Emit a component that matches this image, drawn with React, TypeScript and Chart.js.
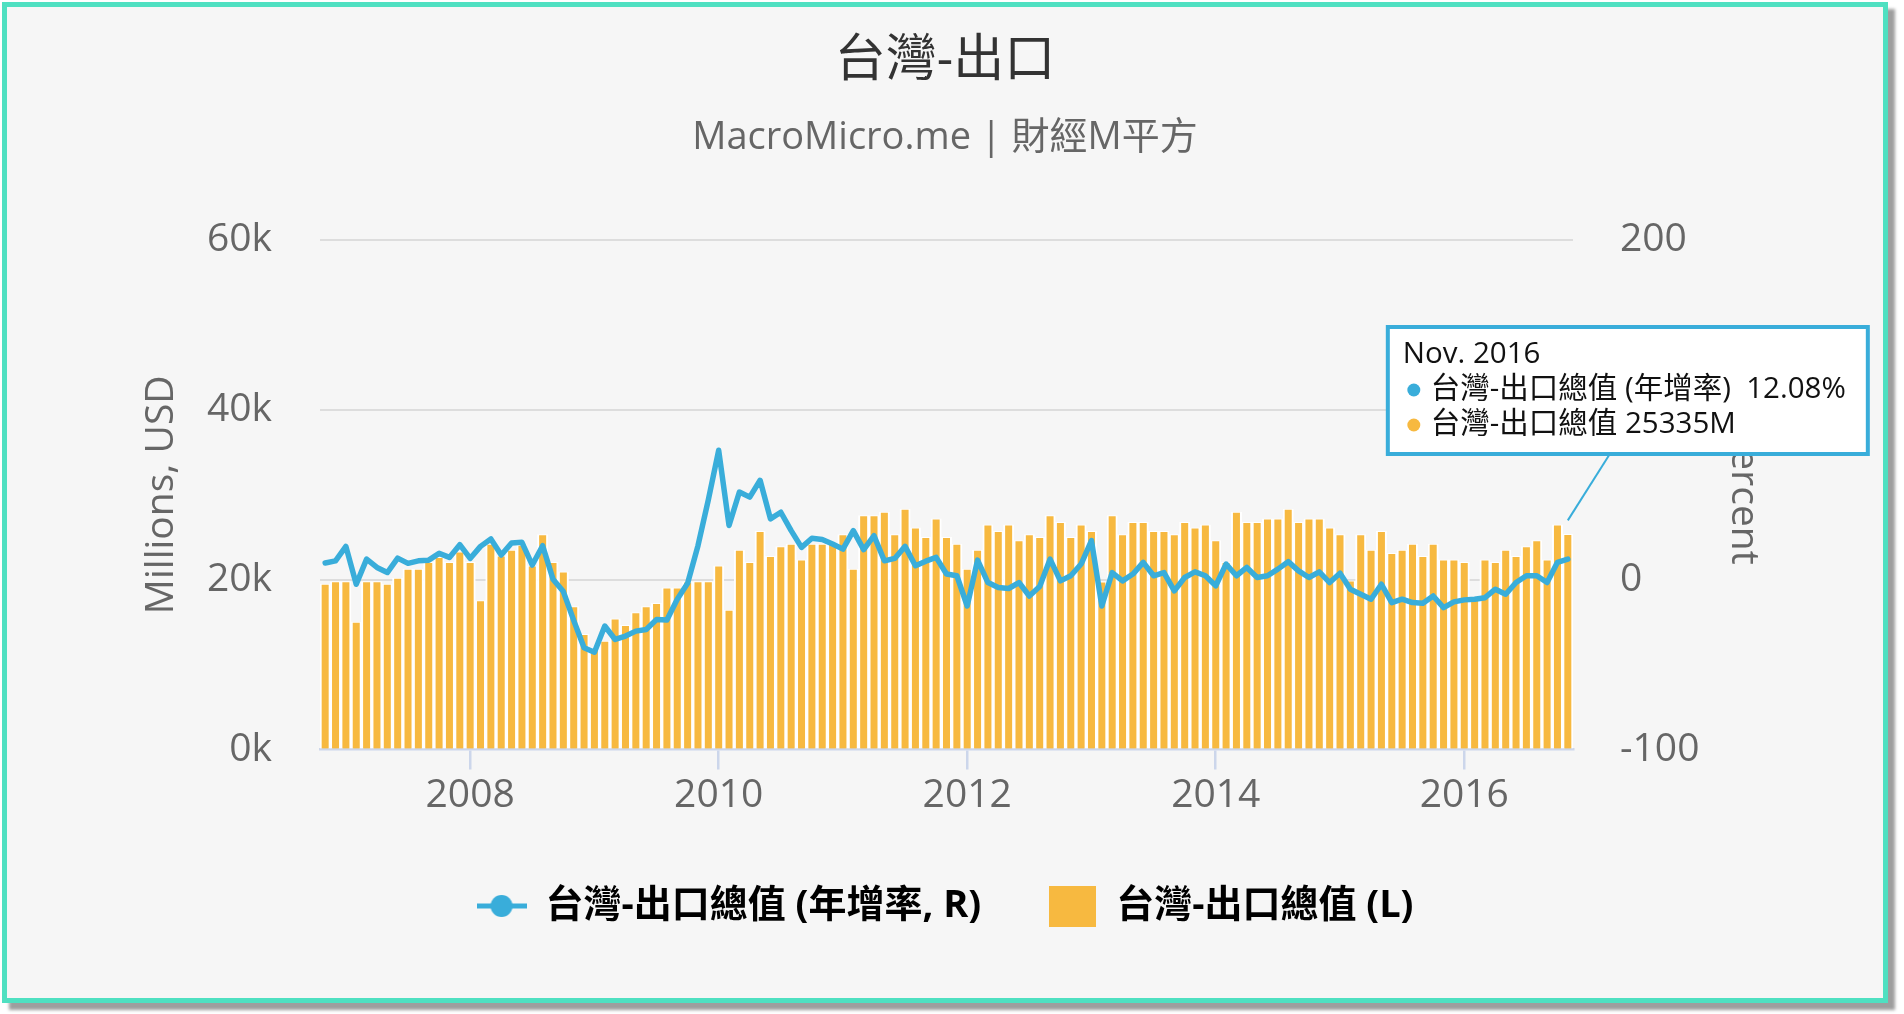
import React, { useEffect, useRef } from 'react';
import { Chart, registerables } from 'chart.js';

Chart.register(...registerables);

// ---------- data ----------
const START_YEAR = 2006;
const START_MONTH = 11; // first bar: Nov. 2006
const xTickYears = ['2008', '2010', '2012', '2014', '2016'];

// 台灣-出口總值 (Millions, USD)
const exportValues = [
  19470, 19780, 19780, 15010, 19780, 19780, 19470, 20180, 21240, 21240, 22030, 22620,
  22030, 23290, 22030, 17530, 24200, 22820, 23490, 24080, 21640, 25300, 22030, 20930,
  16830, 13550, 11780, 12760, 15400, 14620, 16110, 16830, 17220, 19030, 19030, 19740,
  19780, 19780, 21640, 16430, 23490, 22030, 25700, 22740, 23890, 24200, 22340, 24200,
  24200, 24200, 25300, 21240, 27560, 27560, 27950, 25300, 28300, 26090, 24990, 27170,
  24990, 24200, 21240, 23490, 26450, 25700, 26450, 24590, 25300, 24990, 27560, 26760,
  24990, 26450, 25700, 19740, 27560, 25300, 26760, 26760, 25700, 25700, 25300, 26760,
  26090, 26450, 24590, 22030, 27950, 26760, 26760, 27170, 27170, 28300, 26760, 27170,
  27170, 26090, 25300, 19860, 25300, 23490, 25700, 23100, 23490, 24200, 22740, 24200,
  22350, 22350, 22030, 17610, 22350, 22030, 23490, 22740, 23890, 24590, 22350, 26450,
  25335,
];

// 台灣-出口總值 (年增率, %)
const exportGrowth = [
  9.8, 11.1, 19.6, -2.7, 12.1, 7.2, 4.2, 12.7, 9.6, 11.1, 11.5, 15.5,
  13.1, 20.6, 12.5, 19.6, 24.0, 14.5, 21.6, 22.0, 8.6, 20.0, 0.3, -7.0,
  -24.0, -40.1, -42.7, -27.3, -35.2, -33.2, -30.3, -29.3, -23.4, -23.8, -11.5, -2.1,
  20.0, 47.0, 76.2, 31.9, 51.6, 48.6, 58.5, 35.8, 39.7, 28.9, 19.0, 24.4,
  23.6, 21.0, 18.0, 28.9, 17.7, 25.9, 11.1, 12.5, 19.6, 8.2, 10.9, 13.1,
  3.3, 2.3, -15.5, 11.5, -1.7, -4.6, -5.2, -1.7, -9.6, -4.0, 12.1, -0.7,
  2.3, 9.2, 23.0, -15.5, 4.2, -0.7, 3.3, 10.2, 2.3, 4.2, -6.6, 1.3,
  4.6, 2.3, -3.6, 9.2, 2.3, 7.2, 1.3, 2.3, 6.2, 10.6, 5.2, 1.3,
  4.6, -1.7, 3.8, -5.6, -8.6, -11.5, -2.7, -13.5, -11.5, -13.5, -13.9, -9.6,
  -16.5, -13.1, -11.9, -11.5, -10.6, -5.6, -8.6, -1.7, 2.3, 2.3, -1.7, 10.2,
  12.08,
];

const monthLabels: string[] = [];
for (let k = 0; k < exportValues.length; k++) {
  const m = START_MONTH - 1 + k;
  const y = START_YEAR + Math.floor(m / 12);
  monthLabels.push(`${y}-${String((m % 12) + 1).padStart(2, '0')}`);
}

const titleText = '台灣-出口';
const subtitleText = 'MacroMicro.me | 財經M平方';
const leftAxisTitle = 'Millions, USD';
const rightAxisTitle = 'Percent';
const legendLabels = ['台灣-出口總值 (年增率, R)', '台灣-出口總值 (L)'];
const tooltipTitle = 'Nov. 2016';
const tooltipNames = ['台灣-出口總值 (年增率)', '台灣-出口總值'];

// ---------- styles ----------
const FONT = "'Open Sans', 'Noto Sans CJK TC', 'Noto Sans', sans-serif";
const LINE_COLOR = '#39ADDA';
const BAR_COLOR = '#F7B940';
const AXIS_COLOR = '#ccd6eb';

const isShownTick = (i: number) => {
  const lab = monthLabels[i];
  return !!lab && lab.endsWith('-01') && xTickYears.includes(lab.slice(0, 4));
};

const tooltipPlugin = {
  id: 'fixedTooltip',
  afterDraw(chart: any) {
    const ctx = chart.ctx as CanvasRenderingContext2D;
    const last = exportValues.length - 1;
    const bar = chart.getDatasetMeta(1).data[last];
    if (!bar) return;
    const area = chart.chartArea;
    const bx = bar.x - 180;
    const by = area.top + 87;
    const bw = 480;
    const bh = 127;
    ctx.save();
    ctx.strokeStyle = LINE_COLOR;
    ctx.lineWidth = 2;
    ctx.beginPath();
    ctx.moveTo(bx + 222, by + bh);
    ctx.lineTo(bar.x, bar.y - 14);
    ctx.stroke();
    ctx.fillStyle = '#ffffff';
    ctx.fillRect(bx, by, bw, bh);
    ctx.lineWidth = 4;
    ctx.strokeRect(bx, by, bw, bh);
    ctx.textBaseline = 'middle';
    ctx.textAlign = 'left';
    ctx.font = `29.5px ${FONT}`;
    ctx.fillStyle = '#111111';
    ctx.fillText(tooltipTitle, bx + 15, by + 28);
    const rows = [
      { color: LINE_COLOR, text: `${tooltipNames[0]}  ${exportGrowth[last].toFixed(2)}%` },
      { color: BAR_COLOR, text: `${tooltipNames[1]} ${exportValues[last]}M` },
    ];
    rows.forEach((r, i) => {
      const cy = by + 63 + i * 35;
      ctx.fillStyle = r.color;
      ctx.beginPath();
      ctx.arc(bx + 26, cy, 6.5, 0, Math.PI * 2);
      ctx.fill();
      ctx.fillStyle = '#111111';
      ctx.fillText(r.text, bx + 43, cy);
    });
    ctx.restore();
  },
};

function makeLineSymbol() {
  const c = document.createElement('canvas');
  c.width = 50;
  c.height = 24;
  const g = c.getContext('2d')!;
  g.strokeStyle = LINE_COLOR;
  g.lineWidth = 5;
  g.beginPath();
  g.moveTo(0, 12);
  g.lineTo(50, 12);
  g.stroke();
  g.fillStyle = LINE_COLOR;
  g.beginPath();
  g.arc(25, 12, 11, 0, Math.PI * 2);
  g.fill();
  return c;
}

function makeSquareSymbol() {
  const c = document.createElement('canvas');
  c.width = 47;
  c.height = 41;
  const g = c.getContext('2d')!;
  g.fillStyle = BAR_COLOR;
  g.fillRect(0, 0, 47, 41);
  return c;
}

export default function App() {
  const canvasRef = useRef<HTMLCanvasElement | null>(null);

  useEffect(() => {
    document.body.style.margin = '0';
    const canvas = canvasRef.current;
    if (!canvas) return;
    const lineSymbol = makeLineSymbol();
    const squareSymbol = makeSquareSymbol();

    const chart = new Chart(canvas, {
      type: 'bar',
      data: {
        labels: monthLabels,
        datasets: [
          {
            type: 'line',
            label: legendLabels[0],
            data: exportGrowth,
            yAxisID: 'y1',
            borderColor: LINE_COLOR,
            backgroundColor: LINE_COLOR,
            borderWidth: 5.5,
            pointRadius: 0,
            tension: 0,
            borderJoinStyle: 'round',
            borderCapStyle: 'round',
          } as any,
          {
            type: 'bar',
            label: legendLabels[1],
            data: exportValues,
            yAxisID: 'y',
            backgroundColor: BAR_COLOR,
            borderColor: '#ffffff',
            borderWidth: { top: 1, left: 2, right: 2, bottom: 0 },
            borderSkipped: 'start',
            barPercentage: 1,
            categoryPercentage: 1,
          } as any,
        ],
      },
      options: {
        responsive: false,
        animation: false,
        events: [],
        layout: { padding: { left: 100, right: 100, top: 0, bottom: 79 } },
        plugins: {
          tooltip: { enabled: false },
          title: {
            display: true,
            text: titleText,
            color: '#333333',
            font: { family: FONT, size: 51, weight: 'normal' },
            padding: { top: 30.4, bottom: 0 },
          },
          subtitle: {
            display: true,
            text: subtitleText,
            color: '#666666',
            font: { family: FONT, size: 38, weight: 'normal' },
            padding: { top: 23.6, bottom: 79.2 },
          },
          legend: {
            display: true,
            position: 'bottom',
            labels: {
              color: '#333333',
              font: { family: FONT, size: 38, weight: 'bold' },
              padding: 66,
              usePointStyle: true,
              pointStyleWidth: 50,
              generateLabels: () => [
                {
                  text: legendLabels[0],
                  pointStyle: lineSymbol as any,
                  fillStyle: LINE_COLOR,
                  strokeStyle: LINE_COLOR,
                  lineWidth: 0,
                  hidden: false,
                  datasetIndex: 0,
                },
                {
                  text: legendLabels[1],
                  pointStyle: squareSymbol as any,
                  fillStyle: BAR_COLOR,
                  strokeStyle: BAR_COLOR,
                  lineWidth: 0,
                  hidden: false,
                  datasetIndex: 1,
                },
              ],
            },
          },
        },
        scales: {
          x: {
            type: 'category',
            offset: true,
            afterFit: (s: any) => {
              s.height = 71.5;
            },
            grid: {
              display: true,
              offset: false,
              drawOnChartArea: false,
              drawTicks: true,
              tickLength: 20,
              lineWidth: 2.5,
              color: (c: any) => (isShownTick(c.index) ? AXIS_COLOR : 'rgba(0,0,0,0)'),
            },
            border: { display: true, color: AXIS_COLOR, width: 2.5 },
            ticks: {
              autoSkip: false,
              maxRotation: 0,
              minRotation: 0,
              padding: 3,
              color: '#666666',
              font: { family: FONT, size: 39 },
              callback: (_v: any, i: number) => (isShownTick(i) ? monthLabels[i].slice(0, 4) : ''),
            },
          },
          y: {
            type: 'linear',
            position: 'left',
            min: 0,
            max: 60000,
            afterFit: (s: any) => {
              s.width = 220;
            },
            grid: {
              drawTicks: false,
              lineWidth: 2,
              color: (c: any) => (c.tick && c.tick.value === 0 ? 'rgba(0,0,0,0)' : '#dddddd'),
            },
            border: { display: false },
            ticks: {
              stepSize: 20000,
              padding: 48,
              color: '#666666',
              font: { family: FONT, size: 39 },
              callback: (v: any) => `${Number(v) / 1000}k`,
            },
            title: {
              display: true,
              text: leftAxisTitle,
              color: '#666666',
              font: { family: FONT, size: 39 },
              padding: { top: 38, bottom: 0 },
            },
          },
          y1: {
            type: 'linear',
            position: 'right',
            min: -100,
            max: 200,
            afterFit: (s: any) => {
              s.width = 217;
            },
            grid: { display: false, drawTicks: false },
            border: { display: false },
            ticks: {
              stepSize: 100,
              padding: 47,
              color: '#666666',
              font: { family: FONT, size: 39 },
            },
            title: {
              display: true,
              text: rightAxisTitle,
              color: '#666666',
              font: { family: FONT, size: 39 },
              padding: { top: 23, bottom: 0 },
            },
          },
        },
      } as any,
      plugins: [tooltipPlugin],
    });

    let alive = true;
    if ((document as any).fonts && (document as any).fonts.ready) {
      (document as any).fonts.ready.then(() => {
        if (alive) chart.update();
      });
    }

    return () => {
      alive = false;
      chart.destroy();
    };
  }, []);

  return (
    <div
      style={{
        position: 'relative',
        width: 1904,
        height: 1014,
        background: '#ffffff',
        overflow: 'hidden',
      }}
    >
      <div
        style={{
          position: 'absolute',
          left: 2,
          top: 2,
          width: 1886,
          height: 1001,
          boxSizing: 'border-box',
          border: '5px solid #4FE0C1',
          background: '#f6f6f6',
          boxShadow: '7px 7px 3px rgba(0,0,0,0.38)',
        }}
      />
      <canvas
        ref={canvasRef}
        width={1890}
        height={1014}
        style={{ position: 'absolute', left: 0, top: 0, width: 1890, height: 1014 }}
      />
    </div>
  );
}
